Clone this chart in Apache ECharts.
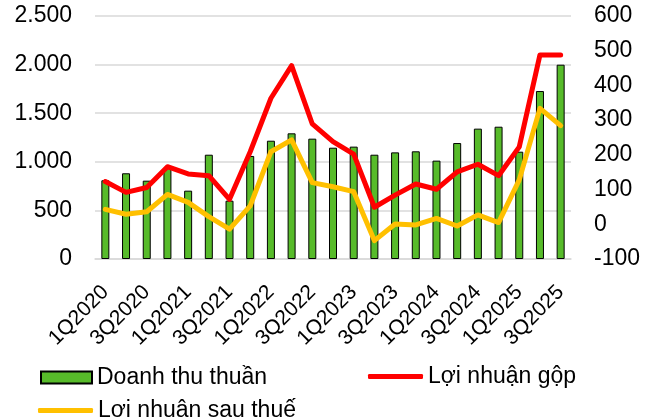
<!DOCTYPE html>
<html>
<head>
<meta charset="utf-8">
<script src="https://cdn.jsdelivr.net/npm/echarts@6/dist/echarts.min.js"></script>
<style>
  html, body { margin: 0; padding: 0; background: #fff; }
  #chart { width: 650px; height: 418px; }
</style>
</head>
<body>
<div id="chart"></div>
<script>
// Doanh thu & lợi nhuận theo quý (trục trái: doanh thu, trục phải: lợi nhuận)
const quarters = [
  '1Q2020', '2Q2020', '3Q2020', '4Q2020',
  '1Q2021', '2Q2021', '3Q2021', '4Q2021',
  '1Q2022', '2Q2022', '3Q2022', '4Q2022',
  '1Q2023', '2Q2023', '3Q2023', '4Q2023',
  '1Q2024', '2Q2024', '3Q2024', '4Q2024',
  '1Q2025', '2Q2025', '3Q2025'
]
const doanhThu = [810, 882, 806, 936, 703, 1073, 600, 1060, 1217, 1293, 1238, 1145,
  1156, 1073, 1097, 1108, 1012, 1193, 1341, 1361, 1104, 1728, 1999]
const loiNhuanGop = [123, 92, 106, 166, 145, 140, 72, 209, 363, 457, 289, 238,
  202, 49, 84, 116, 101, 151, 173, 140, 223, 488, 488]
const loiNhuanSauThue = [43, 29, 36, 86, 63, 22, -14, 53, 209, 243, 120, 108,
  94, -47, 1, -2, 17, -5, 27, 5, 128, 334, 284]

const font = 'Liberation Sans, Arial, sans-serif'
const chart = echarts.init(document.getElementById('chart'))

// số kiểu Việt Nam: 2.500
const fmt = v => String(v).replace(/\B(?=(\d{3})+(?!\d))/g, '.')

const legendText = { fontFamily: font, fontSize: 23, color: '#000' }

chart.setOption({
  animation: false,
  grid: { left: 95, right: 79, top: 16, bottom: 159 },
  legend: [
    {
      data: ['Doanh thu thuần'], left: 35, top: 361, icon: 'rect',
      itemWidth: 51, itemHeight: 12, textStyle: legendText
    },
    {
      data: ['Lợi nhuận gộp'], left: 363, top: 360, icon: 'roundRect',
      itemWidth: 55, itemHeight: 5, textStyle: legendText
    },
    {
      data: ['Lợi nhuận sau thuế'], left: 33, top: 394, icon: 'roundRect',
      itemWidth: 55, itemHeight: 5, textStyle: legendText
    }
  ],
  xAxis: {
    type: 'category',
    data: quarters,
    axisTick: { show: false },
    axisLine: { lineStyle: { color: '#D9D9D9', width: 1.5 } },
    axisLabel: {
      interval: 1,
      rotate: 45,
      margin: 30,
      fontFamily: font,
      fontSize: 21,
      color: '#000'
    }
  },
  yAxis: [
    {
      type: 'value',
      min: 0, max: 2500, interval: 500,
      axisLabel: { fontFamily: font, fontSize: 23, color: '#000', margin: 23, formatter: fmt },
      splitLine: { lineStyle: { color: '#D9D9D9', width: 1.5 } }
    },
    {
      type: 'value',
      min: -100, max: 600, interval: 100,
      axisLabel: { fontFamily: font, fontSize: 23, color: '#000', margin: 23 },
      splitLine: { show: false }
    }
  ],
  series: [
    {
      name: 'Doanh thu thuần',
      type: 'bar',
      data: doanhThu,
      barWidth: 8,
      itemStyle: { color: '#57BB2A', borderColor: '#000', borderWidth: 1 }
    },
    {
      name: 'Lợi nhuận gộp',
      type: 'line',
      yAxisIndex: 1,
      data: loiNhuanGop,
      symbol: 'none',
      itemStyle: { color: '#FF0000' },
      lineStyle: { color: '#FF0000', width: 5, join: 'round', cap: 'round' }
    },
    {
      name: 'Lợi nhuận sau thuế',
      type: 'line',
      yAxisIndex: 1,
      data: loiNhuanSauThue,
      symbol: 'none',
      itemStyle: { color: '#FFC000' },
      lineStyle: { color: '#FFC000', width: 5, join: 'round', cap: 'round' }
    }
  ]
})
</script>
</body>
</html>
